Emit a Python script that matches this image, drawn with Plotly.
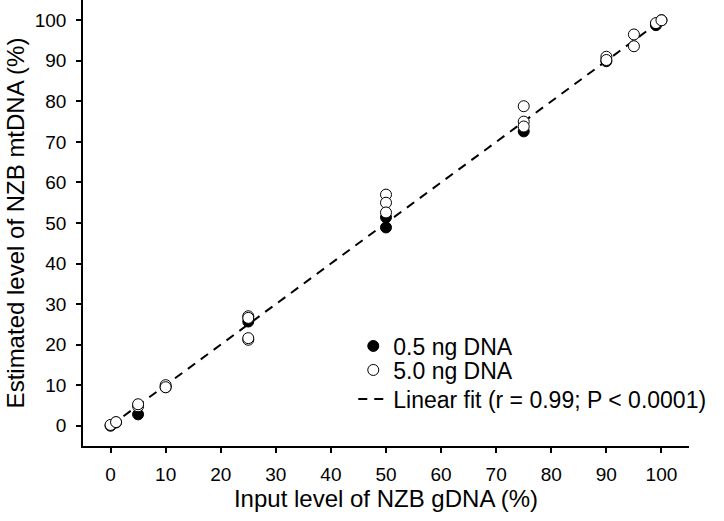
import plotly.graph_objects as go

# 0.5 ng DNA (filled markers)
low_x = [0, 1, 5, 10, 25, 50, 50, 75, 90, 99, 100]
low_y = [0.0, 0.8, 2.8, 9.5, 25.7, 51.4, 48.9, 72.6, 89.9, 98.8, 100.0]

# 5.0 ng DNA (open markers)
high_x = [0, 1, 5, 5, 10, 10, 25, 25, 25, 25, 50, 50, 50, 75, 75, 75, 90, 90, 95, 95, 99, 100]
high_y = [0.2, 0.9, 4.8, 5.3, 10.0, 9.5, 27.0, 26.6, 21.2, 21.6,
          57.0, 55.0, 52.6, 78.8, 75.0, 73.8, 91.0, 90.2, 96.5, 93.6, 99.3, 100.0]

# linear fit
fit_x = [0, 100]
fit_y = [0.0, 100.0]

tick_vals = [0, 10, 20, 30, 40, 50, 60, 70, 80, 90, 100]

font = "Liberation Sans, Arial, sans-serif"

fig = go.Figure()

fig.add_trace(go.Scatter(
    x=fit_x, y=fit_y, mode="lines",
    line=dict(color="black", width=2, dash="9px,7px"),
    name="Linear fit (r = 0.99; P < 0.0001)",
    legend="legend3",
))
fig.add_trace(go.Scatter(
    x=low_x, y=low_y, mode="markers",
    marker=dict(symbol="circle", size=11, color="black", line=dict(color="black", width=1)),
    name="0.5 ng DNA",
    legend="legend",
))
fig.add_trace(go.Scatter(
    x=high_x, y=high_y, mode="markers",
    marker=dict(symbol="circle", size=11, color="white", line=dict(color="black", width=1)),
    name="5.0 ng DNA",
    legend="legend2",
))

axis_common = dict(
    tickvals=tick_vals,
    range=[-5, 105],
    showgrid=False,
    zeroline=False,
    showline=True,
    linecolor="black",
    linewidth=1.5,
    ticks="outside",
    ticklen=5,
    tickwidth=1.5,
    tickcolor="black",
    automargin=False,
    tickfont=dict(family=font, size=19, color="black"),
)

fig.update_xaxes(
    **axis_common,
    ticklabelstandoff=5,
    title=dict(text="Input level of NZB gDNA (%)", font=dict(family=font, size=24, color="black"), standoff=5),
)
fig.update_yaxes(
    **axis_common,
    ticklabelstandoff=6,
    title=dict(text="Estimated level of NZB mtDNA (%)", font=dict(family=font, size=24, color="black"), standoff=3),
)

legend_style = dict(
    xanchor="left", yanchor="middle",
    bgcolor="rgba(0,0,0,0)", borderwidth=0,
    font=dict(family=font, size=23, color="black"),
    itemwidth=30,
)

fig.update_layout(
    width=724,
    height=521,
    margin=dict(l=83, r=35, t=0, b=75),
    plot_bgcolor="white",
    paper_bgcolor="white",
    font=dict(family=font, size=19, color="black"),
    showlegend=True,
    legend=dict(x=0.446, y=1 - 346 / 446, **legend_style),
    legend2=dict(x=0.446, y=1 - 370 / 446, **legend_style),
    legend3=dict(x=0.446, y=1 - 399 / 446, **legend_style),
)

# drop the default 8px page margin so the figure sits at the window corner
fig.write_html(
    "out.html",
    config={"displayModeBar": False},
    post_script="document.body.style.margin = '0';",
)
